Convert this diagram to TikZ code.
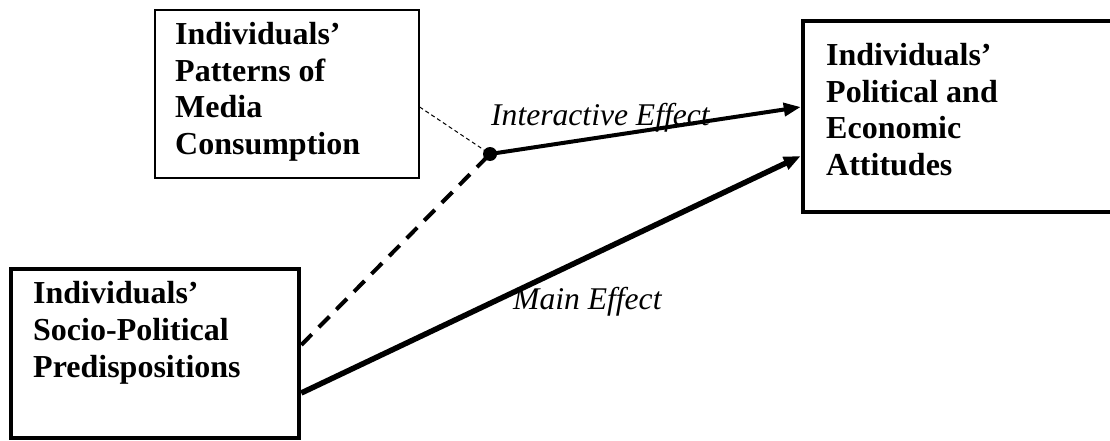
\documentclass[tikz,border=0pt]{standalone}
\usepackage{fontspec}
\setmainfont{Liberation Serif}
\usetikzlibrary{arrows.meta}
\begin{document}
\begin{tikzpicture}[x=1pt,y=-1pt,
  thinbox/.style={draw,line width=1.3pt,inner sep=0pt},
  thickbox/.style={draw,line width=4.5pt,inner sep=0pt},
  boxtext/.style={anchor=north west,inner sep=0pt,align=left,font=\fontsize{32}{36.6}\selectfont\bfseries},
  efftext/.style={anchor=base west,inner sep=0pt,font=\fontsize{31.6}{36}\selectfont\itshape},
  joint/.style={circle,fill=black,inner sep=0pt,minimum size=14pt},
  effarrow/.style={-{Triangle[length=17pt,width=13pt]}},
  dashlink/.style={line width=4pt,dash pattern=on 15pt off 10pt},
  dotlink/.style={line width=1pt,dash pattern=on 4pt off 3pt}]
\useasboundingbox (0,0) rectangle (1110,441);
% boxes
\node[thinbox,minimum width=264pt,minimum height=168pt] (media) at (287,94) {};
\node[thickbox,minimum width=330pt,minimum height=191pt] (attit) at (968,116.5) {};
\node[thickbox,minimum width=288pt,minimum height=169pt] (predis) at (155,353.5) {};
% texts
\node[boxtext] (mediat) at (175,22) {Individuals’\\Patterns of\\Media\\Consumption};
\node[boxtext] (attitt) at (826,43) {Individuals’\\Political and\\Economic\\Attitudes};
\node[boxtext] (predist) at (33,281.5) {Individuals’\\Socio-Political\\Predispositions};
\node[efftext] (inter) at (491,125) {Interactive Effect};
\node[efftext] (maineff) at (513,309) {Main Effect};
% joint point
\node[joint] (j) at (490,154) {};
\coordinate (mediaout) at (media.east |- 0,107);
\coordinate (predisdash) at (predis.east |- 0,345);
\coordinate (predismain) at (predis.east |- 0,393);
\coordinate (attitin1) at (attit.west |- 0,107);
\coordinate (attitin2) at (attit.west |- 0,156);
% connectors
\draw[dotlink] (mediaout) -- (j.center);
\draw[dashlink] (predisdash) -- (j.center);
\draw[effarrow,line width=4pt] (j.center) -- (attitin1);
\draw[effarrow,line width=5.5pt] (predismain) -- (attitin2);
\end{tikzpicture}
\end{document}
